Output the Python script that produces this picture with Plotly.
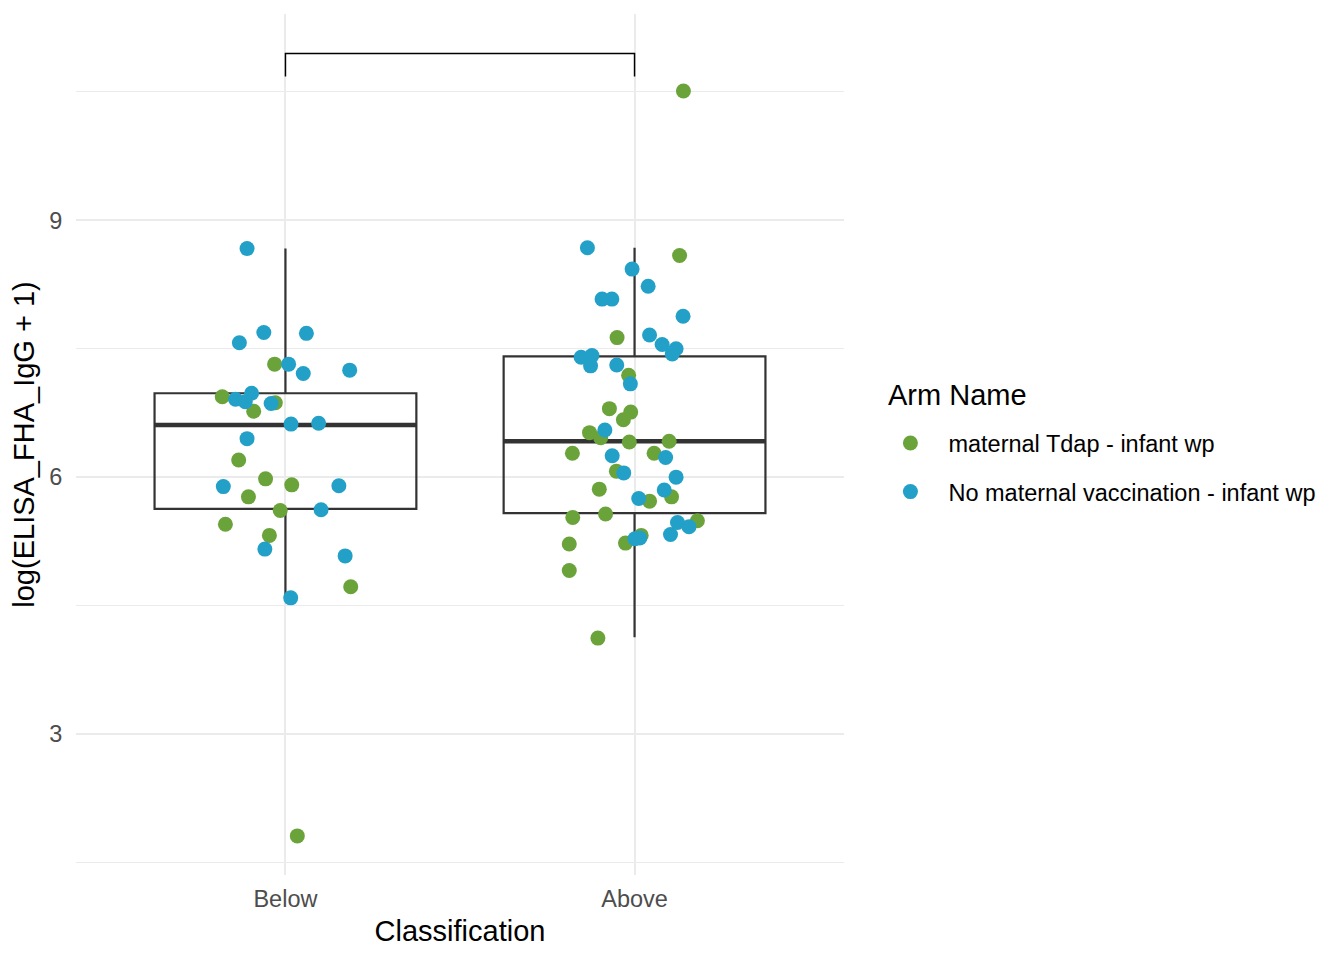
import plotly.graph_objects as go

# box summary per classification
categories = ["Below", "Above"]
cat_pos = [1, 2]
q1 = [5.63, 5.58]
median = [6.61, 6.42]
q3 = [6.98, 7.41]
lower_whisker = [4.59, 4.13]
upper_whisker = [8.67, 8.68]
box_width = 0.75

# jittered points, maternal Tdap - infant wp
tdap_x = [0.969, 0.819, 0.971, 0.909, 0.866, 0.943, 1.018, 0.894, 0.985, 0.828, 0.954, 1.187, 1.034,
          2.129, 1.950, 1.983, 1.928, 1.989, 1.968, 1.871, 1.903, 1.985, 2.099, 1.822, 2.056, 1.948,
          1.899, 2.106, 2.043, 1.823, 1.917, 2.180, 2.019, 1.974, 1.813, 1.813, 1.895, 2.140]
tdap_y = [7.32, 6.94, 6.87, 6.77, 6.20, 5.98, 5.91, 5.77, 5.61, 5.45, 5.32, 4.72, 1.81,
          8.59, 7.63, 7.19, 6.80, 6.76, 6.67, 6.52, 6.46, 6.41, 6.42, 6.28, 6.28, 6.07,
          5.86, 5.77, 5.72, 5.53, 5.57, 5.49, 5.32, 5.23, 5.22, 4.91, 4.12, 10.51]

# jittered points, No maternal vaccination - infant wp
novax_x = [0.890, 0.938, 1.060, 0.868, 1.009, 1.051, 1.184, 0.857, 0.903, 0.885, 0.959, 1.016, 1.095,
           0.890, 0.822, 1.153, 1.102, 0.941, 1.171, 1.015,
           1.865, 1.993, 2.039, 1.907, 1.935, 2.139, 2.043, 2.079, 2.119, 2.108, 1.847, 1.878, 1.874,
           1.949, 1.988, 1.915, 1.936, 2.089, 1.969, 2.119, 2.085, 2.012, 2.123, 2.156, 2.103, 2.001, 2.015]
novax_y = [8.67, 7.69, 7.68, 7.57, 7.32, 7.21, 7.25, 6.91, 6.98, 6.88, 6.86, 6.62, 6.63,
           6.45, 5.89, 5.90, 5.62, 5.16, 5.08, 4.59,
           8.68, 8.43, 8.23, 8.08, 8.08, 7.88, 7.66, 7.55, 7.50, 7.44, 7.40, 7.42, 7.30,
           7.31, 7.09, 6.55, 6.25, 6.23, 6.05, 6.00, 5.85, 5.75, 5.47, 5.42, 5.33, 5.28, 5.29]

# significance bracket
bracket_top = 10.95
bracket_tip = 10.68

green = "#6BA33B"
blue = "#22A0C8"
box_col = "#333333"

fig = go.Figure()

for i in range(len(categories)):
    fig.add_trace(go.Box(
        x=[cat_pos[i]], q1=[q1[i]], median=[median[i]], q3=[q3[i]],
        lowerfence=[lower_whisker[i]], upperfence=[upper_whisker[i]],
        width=box_width, whiskerwidth=0, boxpoints=False,
        fillcolor="rgba(0,0,0,0)", line=dict(color=box_col, width=2.2),
        showlegend=False, hoverinfo="skip"))
    # thicker median line like ggplot
    fig.add_trace(go.Scatter(
        x=[cat_pos[i] - box_width / 2, cat_pos[i] + box_width / 2],
        y=[median[i], median[i]], mode="lines",
        line=dict(color=box_col, width=4.5), showlegend=False, hoverinfo="skip"))

fig.add_trace(go.Scatter(x=tdap_x, y=tdap_y, mode="markers", name="maternal Tdap - infant wp",
                         legendgroup="a", marker=dict(color=green, size=15, line=dict(width=0))))
fig.add_trace(go.Scatter(x=novax_x, y=novax_y, mode="markers", name="No maternal vaccination - infant wp",
                         legendgroup="b", marker=dict(color=blue, size=15, line=dict(width=0))))

fig.add_trace(go.Scatter(
    x=[cat_pos[0], cat_pos[0], cat_pos[1], cat_pos[1]],
    y=[bracket_tip, bracket_top, bracket_top, bracket_tip],
    mode="lines", line=dict(color="black", width=1.5), showlegend=False, hoverinfo="skip"))

fig.update_layout(
    width=1344, height=960,
    margin=dict(l=68, r=508, t=6, b=93),
    plot_bgcolor="white", paper_bgcolor="white",
    font=dict(family="Liberation Sans, Arial, sans-serif", color="black"),
    legend=dict(
        font=dict(size=23.5, color="black"),
        x=1.037, xanchor="left", y=0.473, yanchor="middle",
        tracegroupgap=15, itemwidth=66,
    ),
    annotations=[dict(text="Arm Name", x=1.055, y=0.558, xref="paper", yref="paper",
                      xanchor="left", yanchor="middle", showarrow=False,
                      font=dict(size=29, color="black"))],
)
fig.update_xaxes(
    range=[0.4, 2.6], tickvals=cat_pos, ticktext=categories,
    showgrid=True, gridcolor="#EBEBEB", gridwidth=2, zeroline=False, showline=False,
    ticks="outside", ticklen=3, tickcolor="white",
    tickfont=dict(size=23.5, color="#4D4D4D"),
    title=dict(text="Classification", font=dict(size=29, color="black"), standoff=9),
)
fig.update_yaxes(
    range=[1.353, 11.41], tick0=0, dtick=3,
    showgrid=True, gridcolor="#EBEBEB", gridwidth=2, zeroline=False, showline=False,
    minor=dict(dtick=1.5, tick0=0, showgrid=True, gridcolor="#EBEBEB", gridwidth=1),
    ticks="outside", ticklen=8, tickcolor="white",
    tickfont=dict(size=23.5, color="#4D4D4D"),
    title=dict(text="log(ELISA_FHA_IgG + 1)", font=dict(size=29, color="black"), standoff=8),
)

fig.write_html("out.html")
